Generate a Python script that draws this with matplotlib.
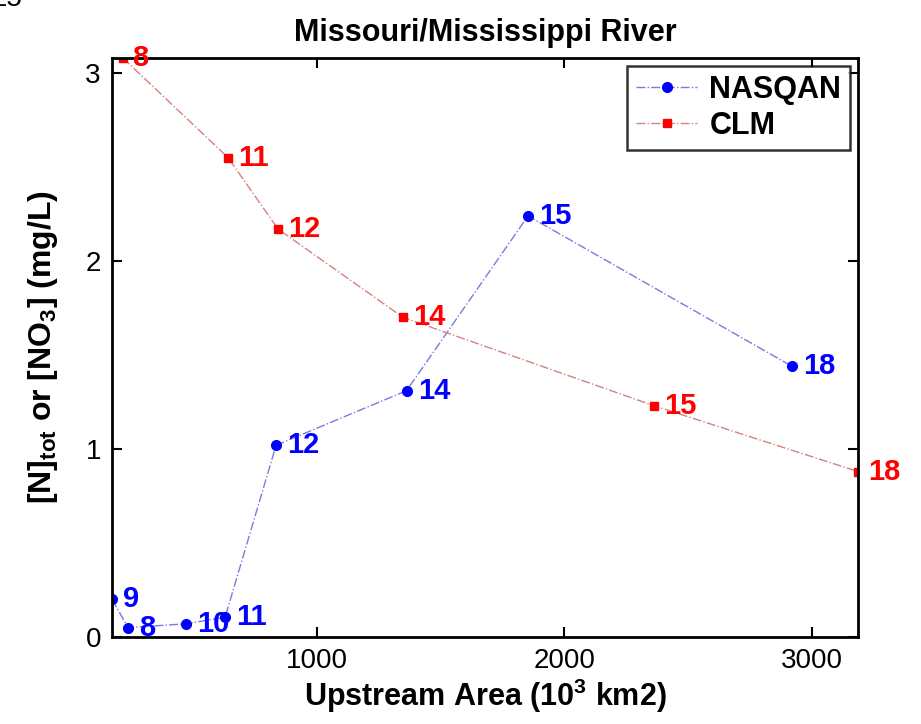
import matplotlib
matplotlib.use('Agg')
import matplotlib.pyplot as plt

plt.rcParams['font.family'] = ['Liberation Sans', 'DejaVu Sans']
plt.rcParams['mathtext.fontset'] = 'custom'
plt.rcParams['mathtext.rm'] = 'Liberation Sans'
plt.rcParams['mathtext.default'] = 'regular'

# NASQAN gauging stations: upstream area (10^3 km2) and concentration (mg/L)
nasqan_area = [172, 237, 471, 629, 835, 1362, 1853, 2919]
nasqan_conc = [0.20, 0.05, 0.07, 0.105, 1.02, 1.31, 2.24, 1.44]
nasqan_ids = ['9', '8', '10', '11', '12', '14', '15', '18']

# CLM model output along the same river
clm_area = [216, 641, 843, 1348, 2362, 3186]
clm_conc = [3.08, 2.55, 2.17, 1.70, 1.23, 0.88]
clm_ids = ['8', '11', '12', '14', '15', '18']

BLUE = '#0000ff'
RED = '#ff0000'

fig = plt.figure(figsize=(9.21, 7.24), dpi=100)
ax = fig.add_axes([0.1216, 0.1202, 0.8100, 0.7997])

ax.plot(nasqan_area, nasqan_conc, linestyle='-.', color='#7a7ae0', lw=1.0,
        marker='o', ms=7, mfc=BLUE, mec=BLUE, label='NASQAN')
ax.plot(clm_area, clm_conc, linestyle='-.', color='#d88080', lw=1.0,
        marker='s', ms=6, mfc=RED, mec=RED, label='CLM')

for x, y, s in zip(nasqan_area, nasqan_conc, nasqan_ids):
    ax.annotate(s, (x, y), xytext=(8, 0), textcoords='offset points',
                va='center', ha='left', fontsize=21, fontweight='bold',
                color=BLUE, clip_on=False)
for x, y, s in zip(clm_area, clm_conc, clm_ids):
    ax.annotate(s, (x, y), xytext=(7, 0), textcoords='offset points',
                va='center', ha='left', fontsize=21, fontweight='bold',
                color=RED, clip_on=False)

ax.set_xlim(min(nasqan_area + clm_area), max(nasqan_area + clm_area))
ax.set_ylim(0, max(nasqan_conc + clm_conc))
ax.set_xticks([1000, 2000, 3000])
ax.set_yticks([0, 1, 2, 3])
ax.tick_params(direction='in', length=7, width=1.5, labelsize=20,
               top=True, right=True, pad=8)
for sp in ax.spines.values():
    sp.set_linewidth(2)

ax.set_title('Missouri/Mississippi River', fontsize=22, fontweight='bold', pad=12)
ax.set_xlabel(r'Upstream Area (10$^{3}$ km2)', fontsize=22, fontweight='bold',
              labelpad=2)
ax.set_ylabel(r'[N]$_{tot}$ or [NO$_{3}$] (mg/L)', fontsize=23,
              fontweight='bold', labelpad=18)

leg = ax.legend(loc='upper right', frameon=True, fancybox=False,
                borderaxespad=0.25, handlelength=2.0, borderpad=0.3,
                labelspacing=0.2, handletextpad=0.4,
                prop={'weight': 'bold', 'size': 22})
leg.get_frame().set_edgecolor('black')
leg.get_frame().set_linewidth(1.8)

# clipped page number from the figure above
fig.text(0.024, 0.9917, '25', ha='right', va='baseline', fontsize=20)

fig.savefig('out.png', dpi=100)
